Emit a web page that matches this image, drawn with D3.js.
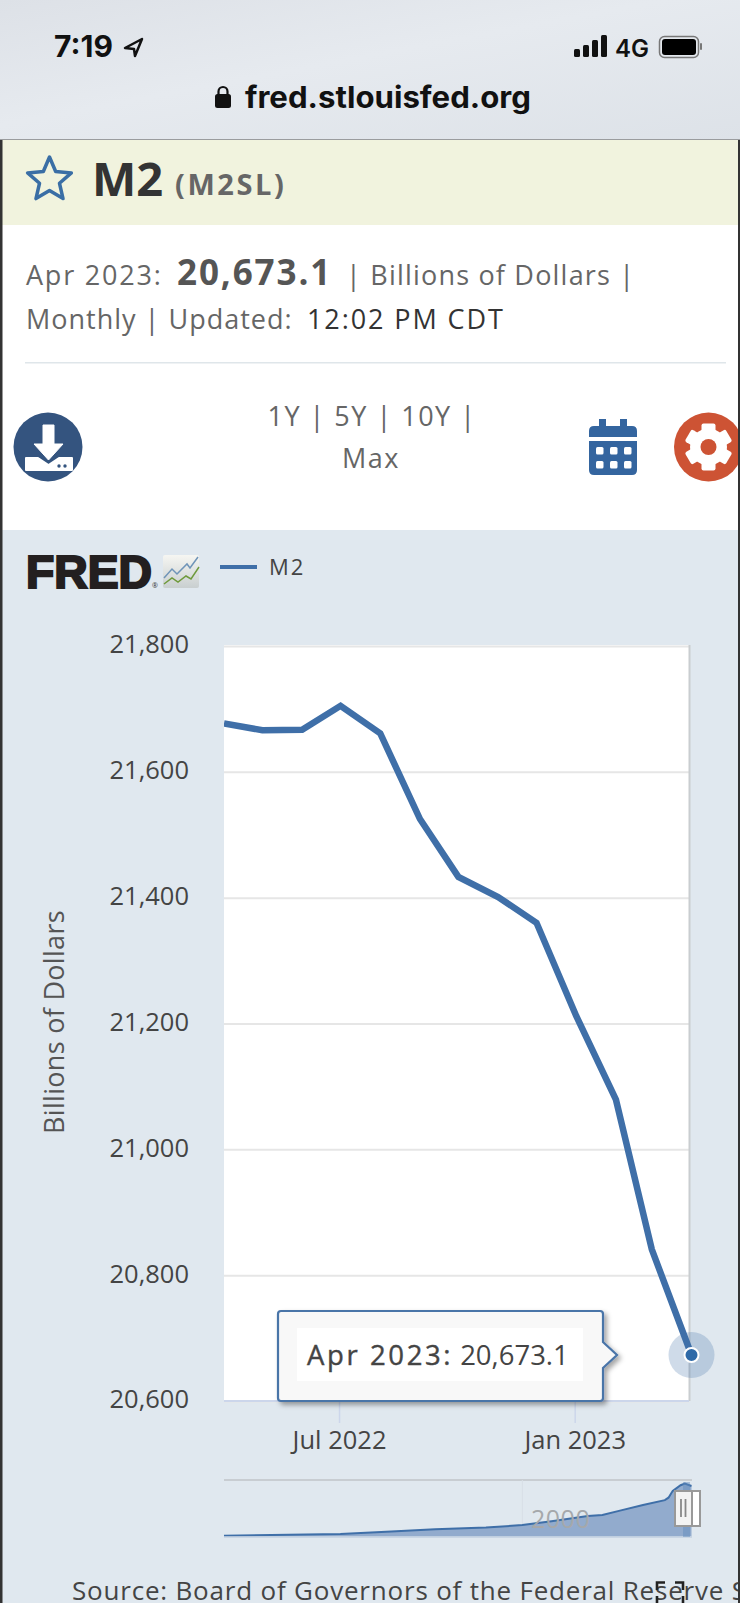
<!DOCTYPE html>
<html>
<head>
<meta charset="utf-8">
<script src="https://cdn.jsdelivr.net/npm/d3@7"></script>
<style>
  html, body { margin: 0; padding: 0; background: #fff; overflow: hidden; }
  svg { display: block; }
  text { font-family: "Open Sans", sans-serif; }
</style>
</head>
<body>
<svg id="page" width="740" height="1603"></svg>
<script>
// main chart
const months = ['2022-04','2022-05','2022-06','2022-07','2022-08','2022-09','2022-10','2022-11','2022-12','2023-01','2023-02','2023-03','2023-04'];
const m2Values = [21677, 21666, 21667, 21705, 21661, 21525, 21433, 21401, 21360, 21212, 21079, 20841, 20673.1];
const yTicks = [20600, 20800, 21000, 21200, 21400, 21600, 21800];
const xTicks = ['2022-07', '2023-01'];

// navigator at the bottom
const overviewMonths = ['1959-01','1975-01','1982-01','1988-01','1995-01','2000-01','2004-01','2009-01','2011-01','2013-06','2016-08','2019-08','2020-02','2020-09','2021-10','2022-05','2023-04'];
const overviewValues = [300, 1000, 2000, 3000, 3650, 4700, 6200, 8400, 8800, 10600, 12900, 14900, 15900, 18700, 21000, 21700, 20673];
const overviewTicks = ['2000-01'];

const parseMonth = d3.timeParse('%Y-%m');
const svg = d3.select('#page');

function label(parent, x, y, str, size, color, opts = {}) {
    return parent.append('text')
        .attr('x', x)
        .attr('y', y)
        .attr('font-size', size)
        .attr('fill', color)
        .attr('font-weight', opts.weight || 400)
        .attr('text-anchor', opts.anchor || 'start')
        .attr('letter-spacing', opts.spacing || 0)
        .style('font-family', opts.family || null)
        .text(str)
}

const defs = svg.append('defs')
const barGrad = defs.append('linearGradient').attr('id', 'barGrad').attr('x1', 0).attr('x2', 1).attr('y1', 0).attr('y2', 1)
barGrad.append('stop').attr('offset', '0%').attr('stop-color', '#dde1e7')
barGrad.append('stop').attr('offset', '45%').attr('stop-color', '#e6eaef')
barGrad.append('stop').attr('offset', '100%').attr('stop-color', '#dde2e8')
const logoGrad = defs.append('linearGradient').attr('id', 'logoGrad').attr('x1', 0).attr('x2', 0).attr('y1', 0).attr('y2', 1)
logoGrad.append('stop').attr('offset', '0%').attr('stop-color', '#f6f6f2')
logoGrad.append('stop').attr('offset', '100%').attr('stop-color', '#c9cfd0')
const shadow = defs.append('filter').attr('id', 'tipShadow').attr('x', '-10%').attr('y', '-10%').attr('width', '120%').attr('height', '130%')
shadow.append('feDropShadow').attr('dx', 3).attr('dy', 3).attr('stdDeviation', 2.5).attr('flood-color', '#000').attr('flood-opacity', 0.35)
defs.append('clipPath').attr('id', 'plotClip').append('rect').attr('x', 224).attr('y', 640).attr('width', 480).attr('height', 770)

// PHONE STATUS BAR

svg.append('rect').attr('width', 740).attr('height', 1603).attr('fill', '#fff')
svg.append('rect').attr('width', 740).attr('height', 139).attr('fill', 'url(#barGrad)')
svg.append('rect').attr('y', 139).attr('width', 740).attr('height', 1).attr('fill', '#9a9c9e')

const ios = '"Inter", "Liberation Sans", sans-serif'
label(svg, 54, 57, '7:19', 30, '#111', { weight: 700, family: ios })
svg.append('path').attr('d', 'M142 39 L125 48 L134 49 L135 56 Z').attr('fill', 'none').attr('stroke', '#111').attr('stroke-width', 2.5).attr('stroke-linejoin', 'round')

svg.selectAll('.signal')
    .data([8, 12, 17, 22])
    .enter()
    .append('rect')
    .attr('x', (d, i) => 574 + i * 9)
    .attr('y', d => 57 - d)
    .attr('width', 6)
    .attr('height', d => d)
    .attr('rx', 1.5)
    .attr('fill', '#111')
label(svg, 615, 57, '4G', 24, '#111', { weight: 600, family: ios })
svg.append('rect').attr('x', 659.5).attr('y', 36.5).attr('width', 39).attr('height', 21).attr('rx', 5).attr('fill', 'none').attr('stroke', '#777').attr('stroke-width', 1.5)
svg.append('rect').attr('x', 662).attr('y', 39).attr('width', 34).attr('height', 16).attr('rx', 3).attr('fill', '#000')
svg.append('rect').attr('x', 700).attr('y', 43).attr('width', 2).attr('height', 7).attr('rx', 1).attr('fill', '#777')

svg.append('rect').attr('x', 215).attr('y', 94).attr('width', 16).attr('height', 14).attr('rx', 2.5).attr('fill', '#111')
svg.append('path').attr('d', 'M218.5 95 V91.5 A4.5 4.5 0 0 1 227.5 91.5 V95').attr('fill', 'none').attr('stroke', '#111').attr('stroke-width', 2.2)
label(svg, 245, 108, 'fred.stlouisfed.org', 30, '#111', { weight: 700, family: ios }).attr('textLength', 286).attr('lengthAdjust', 'spacingAndGlyphs')

// SERIES HEADER

svg.append('rect').attr('y', 140).attr('width', 740).attr('height', 85).attr('fill', '#f1f3de')

const starPath = d3.range(10).map(i => {
    const r = i % 2 ? 10.5 : 23
    const a = -Math.PI / 2 + i * Math.PI / 5
    return [49.5 + r * Math.cos(a), 180 + r * Math.sin(a)]
})
svg.append('path')
    .attr('d', d3.line()(starPath) + 'Z')
    .attr('fill', 'none')
    .attr('stroke', '#3a6ea5')
    .attr('stroke-width', 3.5)
    .attr('stroke-linejoin', 'round')

label(svg, 92, 196, 'M2', 47, '#333', { weight: 700 })
label(svg, 175, 195, '(M2SL)', 29, '#666', { weight: 700, spacing: 2.6 })

label(svg, 26, 285, 'Apr 2023:', 27, '#666', { spacing: 1.8 })
label(svg, 177, 285, '20,673.1', 35, '#555', { weight: 700, spacing: 1.9 })
label(svg, 346, 285, '| Billions of Dollars |', 27, '#666', { spacing: 1.2 })

label(svg, 26, 329, 'Monthly | Updated:', 27, '#666', { spacing: 1 })
label(svg, 307, 329, '12:02 PM CDT', 27, '#333', { spacing: 1.9 })

svg.append('rect').attr('x', 25).attr('y', 362).attr('width', 701).attr('height', 1.5).attr('fill', '#dfe6ea')

label(svg, 372, 426, '1Y | 5Y | 10Y |', 27, '#666', { anchor: 'middle', spacing: 1.5 })
label(svg, 371, 468, 'Max', 27, '#666', { anchor: 'middle', spacing: 1.5 })

// download icon
const dl = svg.append('g')
dl.append('circle').attr('cx', 48).attr('cy', 447).attr('r', 34.5).attr('fill', '#34547f')
dl.append('path').attr('d', 'M43 425 H54 V444 H63 L48.5 460 L34 444 H43 Z').attr('fill', '#fff').attr('stroke', '#fff').attr('stroke-width', 1).attr('stroke-linejoin', 'round')
dl.append('path').attr('d', 'M26 458 H38 L48.5 465 L59 458 H72 V470 H26 Z').attr('fill', '#fff').attr('stroke', '#fff').attr('stroke-linejoin', 'round').attr('stroke-width', 2)
dl.append('circle').attr('cx', 59).attr('cy', 466).attr('r', 1.7).attr('fill', '#34547f')
dl.append('circle').attr('cx', 65).attr('cy', 466).attr('r', 1.7).attr('fill', '#34547f')

// calendar icon
const cal = svg.append('g').attr('fill', '#34659f')
cal.append('path').attr('d', 'M589 437 V431 Q589 426 594 426 H599 V419 H606 V426 H620 V419 H627 V426 H632 Q637 426 637 431 V437 Z')
cal.append('path').attr('d', 'M589 441 H637 V470 Q637 475 632 475 H594 Q589 475 589 470 Z')
d3.range(6).forEach(i => {
    cal.append('rect')
        .attr('x', 596 + (i % 3) * 14)
        .attr('y', 447 + Math.floor(i / 3) * 14)
        .attr('width', 7.5)
        .attr('height', 7.5)
        .attr('rx', 1.5)
        .attr('fill', '#fff')
})

// settings icon
svg.append('circle').attr('cx', 708.5).attr('cy', 447).attr('r', 34.5).attr('fill', '#cd5334')
d3.range(6).forEach(i => {
    svg.append('rect')
        .attr('x', 701.5)
        .attr('y', 423.5)
        .attr('width', 14)
        .attr('height', 14)
        .attr('rx', 2)
        .attr('fill', '#fff')
        .attr('transform', `rotate(${i * 60} 708.5 447)`)
})
svg.append('circle').attr('cx', 708.5).attr('cy', 447).attr('r', 18.5).attr('fill', '#fff')
svg.append('circle').attr('cx', 708.5).attr('cy', 447).attr('r', 8).attr('fill', '#cd5334')

// CHART AREA

svg.append('rect').attr('y', 530).attr('width', 740).attr('height', 1073).attr('fill', '#e0e8ef')

// logo
label(svg, 26, 588, 'FRED', 46, '#231f20', { weight: 700, family: '"Liberation Sans", sans-serif' })
    .attr('stroke', '#231f20')
    .attr('stroke-width', 2.2)
    .attr('textLength', 126)
    .attr('lengthAdjust', 'spacingAndGlyphs')
label(svg, 152, 588, '®', 7, '#333')
svg.append('rect').attr('x', 163).attr('y', 555).attr('width', 36).attr('height', 33).attr('rx', 2).attr('fill', 'url(#logoGrad)')
svg.append('path').attr('d', 'M164 578 L172 569 L177 574 L187 564 L190 568 L198 557').attr('fill', 'none').attr('stroke', '#6f94b8').attr('stroke-width', 1.5)
svg.append('path').attr('d', 'M164 584 L172 578 L178 582 L186 576 L191 579 L199 567').attr('fill', 'none').attr('stroke', '#6f9a3c').attr('stroke-width', 1.5)

// legend
svg.append('line').attr('x1', 220).attr('x2', 257).attr('y1', 567).attr('y2', 567).attr('stroke', '#3f6fa8').attr('stroke-width', 4)
label(svg, 269, 574.5, 'M2', 22, '#444', { spacing: 2 })

const x = d3.scaleTime()
    .domain([parseMonth(months[0]), parseMonth(months[months.length - 1])])
    .range([224, 691.5])
const y = d3.scaleLinear()
    .domain([20600, 21800])
    .range([1401, 646])

svg.append('rect').attr('x', 224).attr('y', 645).attr('width', 465).attr('height', 756).attr('fill', '#fff')

const yAxis = svg.append('g')
    .attr('transform', 'translate(224,0)')
    .call(d3.axisLeft(y).tickValues(yTicks).tickFormat(d3.format(',')).tickSize(-465).tickPadding(35))
yAxis.select('.domain').remove()
yAxis.selectAll('.tick line').attr('stroke', '#e6e6e6').attr('stroke-width', 2)
yAxis.selectAll('.tick text')
    .attr('font-size', 25.5)
    .attr('fill', '#444')
    .attr('dy', '0.27em')
    .style('font-family', '"Open Sans", sans-serif')

svg.append('line').attr('x1', 689.5).attr('x2', 689.5).attr('y1', 645).attr('y2', 1401).attr('stroke', '#c9cdd0').attr('stroke-width', 2)

const xAxis = svg.append('g')
    .attr('transform', 'translate(-1.5,1401)')
    .call(d3.axisBottom(x).tickValues(xTicks.map(parseMonth)).tickFormat(d3.timeFormat('%b %Y')).tickSize(22).tickPadding(8))
xAxis.select('.domain').remove()
xAxis.selectAll('.tick line').attr('stroke', '#ccd6eb').attr('stroke-width', 1.5)
xAxis.selectAll('.tick text')
    .attr('font-size', 25.5)
    .attr('fill', '#444')
    .attr('dy', '0.71em')
    .style('font-family', '"Open Sans", sans-serif')
svg.append('line').attr('x1', 224).attr('x2', 689).attr('y1', 1401).attr('y2', 1401).attr('stroke', '#ccd6eb').attr('stroke-width', 2)

label(svg, 0, 0, 'Billions of Dollars', 27, '#555', { anchor: 'middle', spacing: 0.3 })
    .attr('transform', 'translate(64,1022) rotate(-90)')

const series = months.map((m, i) => ({ date: parseMonth(m), value: m2Values[i] }))
const lineGen = d3.line().x(d => x(d.date)).y(d => y(d.value))
svg.append('path')
    .datum(series)
    .attr('clip-path', 'url(#plotClip)')
    .attr('d', lineGen)
    .attr('fill', 'none')
    .attr('stroke', '#3f6fa8')
    .attr('stroke-width', 6.5)

// hover marker on the last point
const last = series[series.length - 1]
svg.append('circle').attr('cx', x(last.date)).attr('cy', y(last.value)).attr('r', 23).attr('fill', '#3f6fa8').attr('fill-opacity', 0.25)
svg.append('circle').attr('cx', x(last.date)).attr('cy', y(last.value)).attr('r', 7).attr('fill', '#2f6aa8').attr('stroke', '#fff').attr('stroke-width', 2)

// tooltip
const tipY = y(last.value)
svg.append('path')
    .attr('d', `M281 1311 H600 Q603 1311 603 1314 V${tipY - 13} L617 ${tipY} L603 ${tipY + 13} V1398 Q603 1401 600 1401 H281 Q278 1401 278 1398 V1314 Q278 1311 281 1311 Z`)
    .attr('fill', '#f8f8f8')
    .attr('stroke', '#4a74a8')
    .attr('stroke-width', 2.2)
    .attr('filter', 'url(#tipShadow)')
svg.append('rect').attr('x', 297).attr('y', 1328).attr('width', 286).attr('height', 53).attr('fill', '#fff')
const tipText = label(svg, 307, 1365, '', 27.5, '#444')
tipText.append('tspan').attr('letter-spacing', 2.6).attr('stroke', '#444').attr('stroke-width', 0.4).text('Apr 2023:')
tipText.append('tspan').attr('dx', 7).text(d3.format(',.1f')(last.value))

// NAVIGATOR

const navX = d3.scaleTime()
    .domain([parseMonth(overviewMonths[0]), parseMonth(overviewMonths[overviewMonths.length - 1])])
    .range([224, 691.5])
const navY = d3.scaleLinear()
    .domain([0, 21700])
    .range([1536.5, 1483.5])
const overview = overviewMonths.map((m, i) => ({ date: parseMonth(m), value: overviewValues[i] }))

svg.append('line').attr('x1', 224).attr('x2', 692).attr('y1', 1480).attr('y2', 1480).attr('stroke', '#c8cdd2').attr('stroke-width', 2)
svg.selectAll('.navtick')
    .data(overviewTicks.map(parseMonth))
    .enter()
    .append('line')
    .attr('x1', d => navX(d))
    .attr('x2', d => navX(d))
    .attr('y1', 1480)
    .attr('y2', 1536)
    .attr('stroke', '#d8dfe6')

svg.append('path')
    .datum(overview)
    .attr('d', d3.area().x(d => navX(d.date)).y0(navY(0)).y1(d => navY(d.value)))
    .attr('fill', '#92abcd')
svg.append('path')
    .datum(overview)
    .attr('d', d3.line().x(d => navX(d.date)).y(d => navY(d.value)))
    .attr('fill', 'none')
    .attr('stroke', '#3f6fa8')
    .attr('stroke-width', 2)
svg.append('line').attr('x1', 224).attr('x2', 692).attr('y1', 1537).attr('y2', 1537).attr('stroke', '#c3d0e0').attr('stroke-width', 1.5)
svg.append('rect').attr('x', 683).attr('y', 1482).attr('width', 7).attr('height', 55).attr('fill', '#5f89bd').attr('fill-opacity', 0.45)

label(svg, 531, 1528, '2000', 25, '#a5a8ab', { spacing: 0.5 })

svg.append('rect').attr('x', 692).attr('y', 1491).attr('width', 8).attr('height', 35).attr('fill', '#fff').attr('stroke', '#999').attr('stroke-width', 2)
svg.append('rect').attr('x', 675).attr('y', 1491).attr('width', 17).attr('height', 35).attr('fill', '#f3f3f3').attr('stroke', '#999').attr('stroke-width', 2)
svg.append('line').attr('x1', 681).attr('x2', 681).attr('y1', 1499).attr('y2', 1517).attr('stroke', '#888').attr('stroke-width', 1.8)
svg.append('line').attr('x1', 685.5).attr('x2', 685.5).attr('y1', 1499).attr('y2', 1517).attr('stroke', '#888').attr('stroke-width', 1.8)

// cut off at the bottom of the phone screen
label(svg, 72, 1600, 'Source: Board of Governors of the Federal Reserve System (US)', 26, '#444', { spacing: 0.8 })
svg.append('path').attr('d', 'M657 1590 V1582.5 H665 M675 1582.5 H683 V1590 M657 1596 V1603 M683 1596 V1603').attr('fill', 'none').attr('stroke', '#222').attr('stroke-width', 2.6)

// dark page edges
svg.append('rect').attr('y', 140).attr('width', 2.5).attr('height', 1463).attr('fill', '#333')
svg.append('rect').attr('x', 738).attr('y', 140).attr('width', 2).attr('height', 1463).attr('fill', '#333')
</script>
</body>
</html>
